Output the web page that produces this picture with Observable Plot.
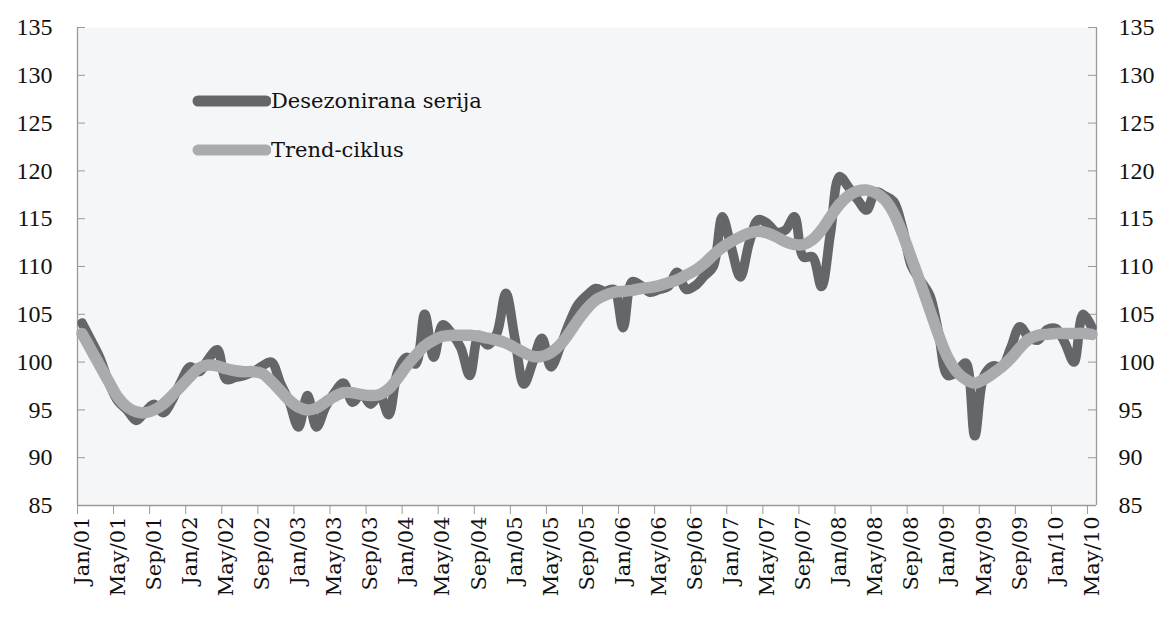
<!DOCTYPE html>
<html>
<head>
<meta charset="utf-8">
<script src="https://cdn.jsdelivr.net/npm/d3@7"></script>
<script src="https://cdn.jsdelivr.net/npm/@observablehq/plot@0.6"></script>
<style>
  body { margin: 0; background: #ffffff; }
  #wrap { position: relative; width: 1164px; height: 624px; }
  .legend { position: absolute; left: 191px; top: 82px; font-family: "DejaVu Serif", serif; font-size: 21px; color: #111; }
  .legend .row { display: flex; align-items: center; height: 38px; margin-bottom: 11px; }
  .legend svg { display: block; margin-right: 0px; }
</style>
</head>
<body>
<div id="wrap"></div>
<script>
// Tick labels (every 4th month, Jan/01 .. May/10)
const tickLabels = ["Jan/01","May/01","Sep/01","Jan/02","May/02","Sep/02","Jan/03","May/03","Sep/03",
  "Jan/04","May/04","Sep/04","Jan/05","May/05","Sep/05","Jan/06","May/06","Sep/06","Jan/07","May/07",
  "Sep/07","Jan/08","May/08","Sep/08","Jan/09","May/09","Sep/09","Jan/10","May/10"];

// Monthly values, Jan 2001 .. May 2010
const seasonallyAdjusted = [
  104.1,102.3,100.4,97.8,95.9,95.0,93.9,94.8,95.6,94.7,96.0,98.0,   // 2001
  99.5,99.0,100.3,101.3,98.2,98.4,98.6,99.0,99.6,100.0,97.8,95.8,   // 2002
  93.2,96.5,93.2,95.3,96.8,97.8,95.8,96.7,95.6,96.6,94.5,99.0,      // 2003
  100.5,99.8,105.0,100.5,103.9,103.0,101.5,98.6,102.8,101.8,103.0,107.2, // 2004
  102.5,97.7,100.0,102.5,99.5,101.5,104.0,106.0,107.0,107.7,107.4,107.6, // 2005
  103.6,108.4,108.0,107.3,107.6,107.9,109.4,107.6,108.0,109.0,110.0,115.2, // 2006
  112.0,108.9,112.5,114.9,114.5,113.6,113.8,115.2,111.0,111.0,107.9,113.5, // 2007
  119.4,118.3,117.0,115.9,117.8,117.4,116.8,114.0,110.0,108.5,107.0,103.0, // 2008
  98.6,99.0,99.9,92.3,98.5,99.6,99.5,101.5,103.7,102.6,102.3,103.4,  // 2009
  103.5,102.0,100.0,105.0,103.6                                      // 2010
];
const trendCycle = [
  103.0,101.3,99.6,97.9,96.3,95.3,94.8,94.7,95.0,95.6,96.5,97.5,
  98.5,99.4,99.7,99.6,99.3,99.1,99.0,99.0,98.8,98.0,97.0,96.0,
  95.3,95.0,95.2,95.8,96.4,96.8,96.8,96.6,96.5,96.6,97.2,98.3,
  99.6,100.7,101.7,102.3,102.7,102.8,102.8,102.8,102.7,102.5,102.3,102.0,
  101.5,101.0,100.6,100.6,101.0,101.8,103.0,104.4,105.6,106.5,107.0,107.3,
  107.4,107.5,107.7,107.8,108.0,108.3,108.6,109.1,109.6,110.3,111.2,112.0,
  112.6,113.1,113.5,113.7,113.5,113.1,112.6,112.3,112.3,112.8,113.8,115.2,
  116.5,117.4,117.9,118.0,117.7,117.0,115.6,113.4,110.8,108.2,105.5,102.8,
  100.5,99.0,98.2,97.8,98.2,98.8,99.5,100.4,101.5,102.4,102.8,102.9,
  103.0,103.0,103.0,103.0,102.9
];
const yTicks = [85,90,95,100,105,110,115,120,125,130,135];
const seriesNames = ["Desezonirana serija", "Trend-ciklus"];
const seriesColors = ["#65666a", "#a9abae"];

const nMonths = seasonallyAdjusted.length;          // 113 monthly bands
const tickPositions = d3.range(0, nMonths, 4);      // band edges for tick marks
const darkData = seasonallyAdjusted.map((v, i) => ({t: i + 0.5, v}));
const trendData = trendCycle.map((v, i) => ({t: i + 0.5, v}));

const W = 1164, H = 624, mL = 77, mR = 68, mT = 27, mB = 119;
const innerW = W - mL - mR;
const axisGray = "#9a9a9a";

const chart = Plot.plot({
  width: W, height: H,
  marginLeft: mL, marginRight: mR, marginTop: mT, marginBottom: mB,
  x: {domain: [0, nMonths], label: null},
  y: {domain: [85, 135], label: null},
  style: {fontFamily: "Liberation Serif, serif", fontSize: "24px", color: "#111", background: "transparent"},
  marks: [
    Plot.frame({fill: "#f5f6f8", stroke: null}),
    Plot.tickY(yTicks, {y: d => d, stroke: axisGray, insetRight: innerW - 8}),
    Plot.tickY(yTicks, {y: d => d, stroke: axisGray, insetLeft: innerW - 8}),
    Plot.ruleX([0, nMonths], {stroke: axisGray, strokeWidth: 1.3}),
    Plot.ruleY([85], {stroke: axisGray, strokeWidth: 1.3}),
    Plot.axisY({anchor: "left", ticks: yTicks, tickSize: 0, tickPadding: 25, fontSize: 24, label: null}),
    Plot.axisY({anchor: "right", ticks: yTicks, tickSize: 0, tickPadding: 22, fontSize: 24, label: null}),
    Plot.axisX({ticks: tickPositions, tickSize: 9, tickFormat: () => "", stroke: axisGray, label: null}),
    Plot.axisX({
      ticks: tickPositions.map(k => k + 0.5), tickSize: 0, tickPadding: 11, tickRotate: -90,
      tickFormat: d => tickLabels[Math.round((d - 0.5) / 4)],
      fontFamily: "DejaVu Serif, serif", fontSize: 21, label: null
    }),
    Plot.line(darkData, {x: "t", y: "v", stroke: seriesColors[0], strokeWidth: 9.5,
      curve: "catmull-rom", strokeLinecap: "round", strokeLinejoin: "round"}),
    Plot.line(trendData, {x: "t", y: "v", stroke: seriesColors[1], strokeWidth: 11.5,
      curve: "catmull-rom", strokeLinecap: "round", strokeLinejoin: "round"})
  ]
});

const wrap = document.getElementById("wrap");
wrap.appendChild(chart);

// Legend inside the plot area
const legend = document.createElement("div");
legend.className = "legend";
seriesNames.forEach((name, i) => {
  const row = document.createElement("div");
  row.className = "row";
  row.innerHTML = `<svg width="80" height="14"><line x1="7" y1="7" x2="75" y2="7" stroke="${seriesColors[i]}" stroke-width="11" stroke-linecap="round"/></svg><span>${name}</span>`;
  legend.appendChild(row);
});
wrap.appendChild(legend);
</script>
</body>
</html>
